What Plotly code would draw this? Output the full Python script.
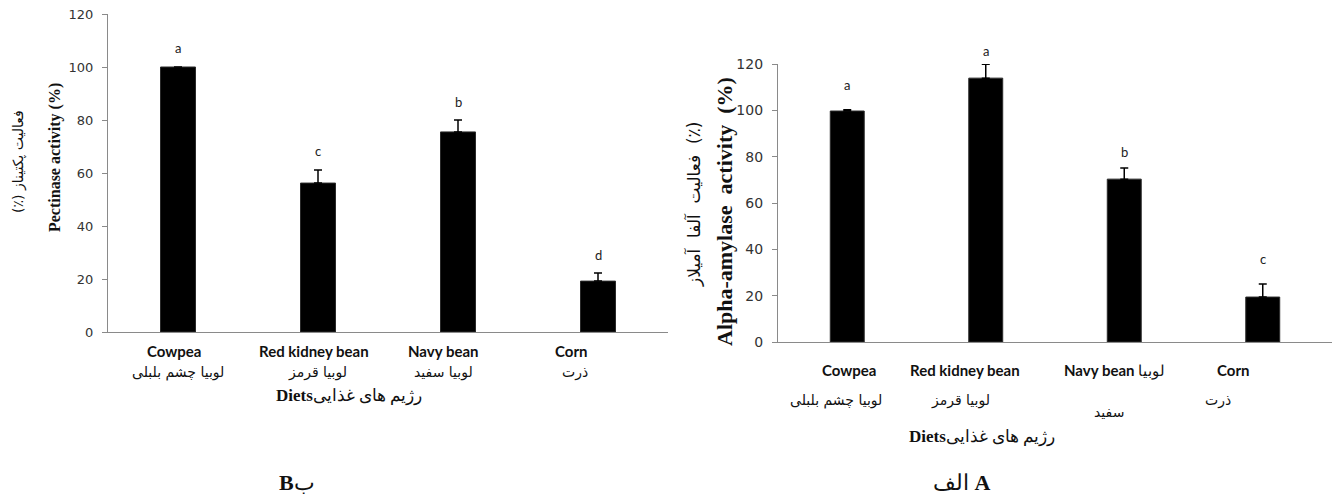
import plotly.graph_objects as go

W, H = 1335, 497

# ---- data -------------------------------------------------------------
diets_en = ["Cowpea", "Red kidney bean", "Navy bean", "Corn"]
diets_fa = ["لوبیا چشم بلبلی", "لوبیا قرمز", "لوبیا سفید", "ذرت"]

# panel B: pectinase activity (%)
pectinase = [100.0, 56.2, 75.5, 19.2]
pectinase_se = [0.0, 4.9, 4.5, 3.1]
pectinase_groups = ["a", "c", "b", "d"]

# panel A: alpha-amylase activity (%)
amylase = [99.7, 113.9, 70.3, 19.4]
amylase_se = [0.5, 6.0, 4.8, 5.6]
amylase_groups = ["a", "a", "b", "c"]
amylase_labels_en = ["Cowpea", "Red kidney bean", "Navy bean", "Corn"]
amylase_labels_fa = ["لوبیا چشم بلبلی", "لوبیا قرمز", "سفید", "ذرت"]

y_ticks = [0, 20, 40, 60, 80, 100, 120]

# ---- helpers ------------------------------------------------------------
def px(x):
    return x / W


def py(y):
    return 1 - y / H


AXIS_GRAY = "#8a8a8a"
TICK_FONT = "DejaVu Sans"
LABEL_FONT = "Lato"
TITLE_FONT = "Liberation Serif"
FA_FONT = "DejaVu Sans"

fig = go.Figure()


def add_bars(values, errs, xa, ya, width):
    fig.add_trace(go.Bar(
        x=diets_en, y=values, xaxis=xa, yaxis=ya, width=width,
        marker=dict(color="black", line=dict(color="#2a2a2a", width=1)),
        error_y=dict(type="data", array=errs, arrayminus=[0] * len(errs),
                     symmetric=False, color="black", thickness=1.5, width=4),
        showlegend=False, hoverinfo="skip",
    ))


add_bars(pectinase, pectinase_se, "x", "y", 0.25)
add_bars(amylase, amylase_se, "x2", "y2", 0.245)


def y_axis(domain, anchor, font_size):
    return dict(
        domain=domain, anchor=anchor, range=[0, 120], tickvals=y_ticks,
        ticks="outside", ticklen=5, tickwidth=1.2, tickcolor=AXIS_GRAY,
        showline=True, linecolor=AXIS_GRAY, linewidth=1.3, showgrid=False,
        zeroline=False, automargin=False,
        tickfont=dict(family=TICK_FONT, size=font_size, color="#333"),
        ticklabelstandoff=6, fixedrange=True,
    )


def x_axis(domain, anchor):
    return dict(
        domain=domain, type="category", range=[-0.5, 3.5], anchor=anchor,
        showline=True, linecolor=AXIS_GRAY, linewidth=1.3, ticks="",
        showticklabels=False, showgrid=False, zeroline=False,
        automargin=False, fixedrange=True,
    )


fig.update_layout(
    width=W, height=H, margin=dict(l=0, r=0, t=0, b=0, pad=0),
    paper_bgcolor="white", plot_bgcolor="white",
    xaxis=x_axis([px(108), px(668)], "y"),
    yaxis=y_axis([py(332), py(14)], "x", 13),
    xaxis2=x_axis([px(778), px(1332)], "y2"),
    yaxis2=y_axis([py(342), py(64)], "x2", 14),
)

ann = []


def note(x, y, text, font, xref="paper", yref="paper", **kw):
    d = dict(x=x, y=y, xref=xref, yref=yref, text=text, showarrow=False,
             xanchor="center", yanchor="middle", font=font)
    d.update(kw)
    ann.append(d)


letter_font = dict(family=LABEL_FONT, size=13, color="#222")

# significance letters above the error bars
gap_b = [9, 9, 8, 8]
gap_a = [15, 3, 6, 15]
for i, (v, e, g) in enumerate(zip(pectinase, pectinase_se, pectinase_groups)):
    note(diets_en[i], v + e, g, letter_font, xref="x", yref="y",
         yanchor="bottom", yshift=gap_b[i])
for i, (v, e, g) in enumerate(zip(amylase, amylase_se, amylase_groups)):
    note(diets_en[i], v + e, g, letter_font, xref="x2", yref="y2",
         yanchor="bottom", yshift=gap_a[i])

en_font = dict(family=LABEL_FONT, size=15, color="#111")
fa_font = dict(family=FA_FONT, size=14, color="#111")

# category labels, panel B
shift_b_en = [-4, -4, -15, -27]
shift_b_fa = [0, -1, -15, -23]
for i in range(4):
    note(diets_en[i], py(351), "<b>%s</b>" % diets_en[i], en_font,
         xref="x", xshift=shift_b_en[i])
    note(diets_en[i], py(372), diets_fa[i], fa_font,
         xref="x", xshift=shift_b_fa[i])

# category labels, panel A
shift_a_en = [2, -21, -10, -30]
shift_a_fa = [-11, -25, -15, -45]
fa_rows_a = [400, 400, 412, 400]
for i in range(4):
    label = "<b>%s</b>" % amylase_labels_en[i]
    if i == 2:
        label += " لوبیا"
    note(diets_en[i], py(370), label, en_font, xref="x2", xshift=shift_a_en[i])
    note(diets_en[i], py(fa_rows_a[i]), amylase_labels_fa[i], fa_font,
         xref="x2", xshift=shift_a_fa[i])

title_font = dict(family=TITLE_FONT, size=17, color="#111")

# x-axis titles
note(px(349), py(396), "<b>Diets</b>رژیم های غذایی", title_font)
note(px(982), py(437), "<b>Diets</b>رژیم های غذایی", title_font)

# y-axis titles
note(px(55), py(157), "<b>Pectinase activity (%)</b>",
     dict(family=TITLE_FONT, size=16, color="#111"), textangle=-90)
note(px(18), py(162), "(٪) فعالیت پکتیناز",
     dict(family=FA_FONT, size=14, color="#111"), textangle=-90)
note(px(724), py(212), "<b>Alpha-amylase  activity  (%)</b>",
     dict(family=TITLE_FONT, size=22, color="#111"), textangle=-90)
note(px(694), py(205), "فعالیت  آلفا  آمیلاز  (٪)",
     dict(family=FA_FONT, size=17, color="#111"), textangle=-90)

# panel captions
caption_font = dict(family=TITLE_FONT, size=22, color="#111")
note(px(297), py(482), "<b>B</b>ب", caption_font)
note(px(962), py(482), "الف <b>A</b>", caption_font)

fig.update_layout(annotations=ann)
fig.write_html("out.html")
